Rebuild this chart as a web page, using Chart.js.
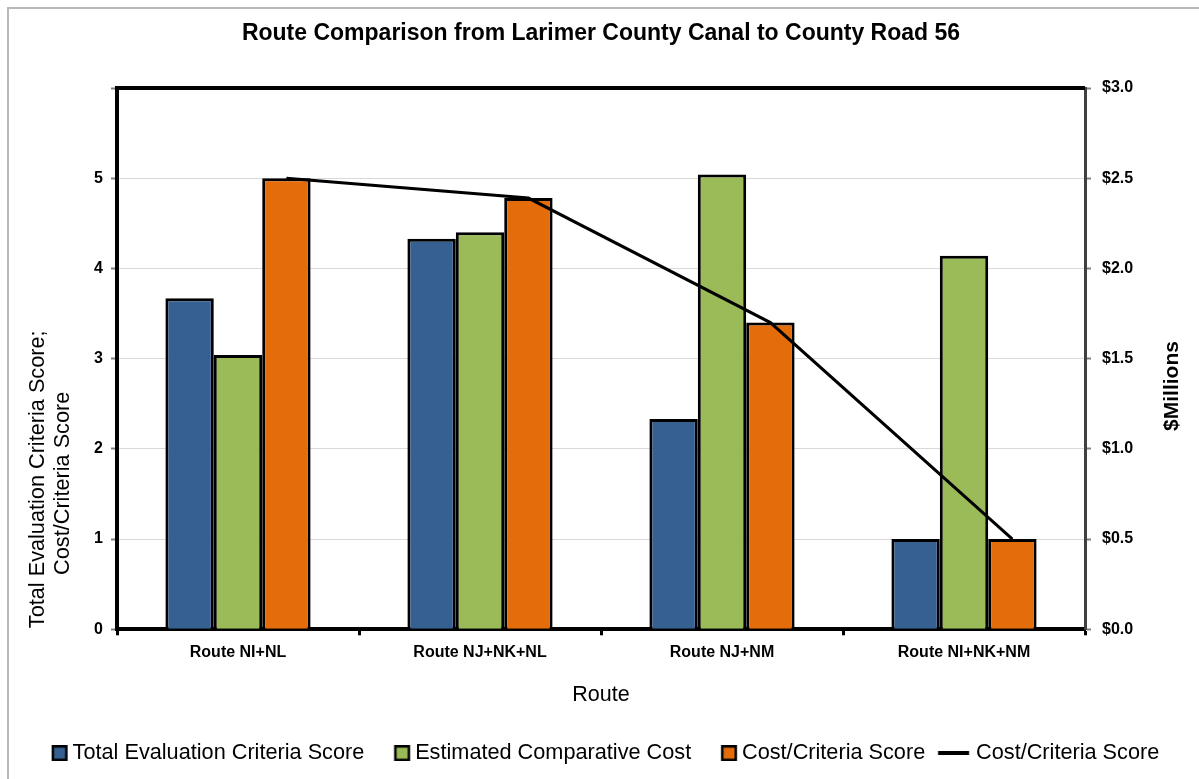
<!DOCTYPE html>
<html>
<head>
<meta charset="utf-8">
<title>Route Comparison</title>
<script src="https://cdn.jsdelivr.net/npm/chart.js@4.4.1/dist/chart.umd.min.js"></script>
<style>
  html, body { margin: 0; padding: 0; background: #fff; overflow: hidden; }
  #wrap { position: relative; width: 1199px; height: 779px; }
  #frame { position: absolute; left: 7px; top: 7px; width: 1300px; height: 900px;
           border-left: 2px solid #b8b8b8; border-top: 2px solid #b8b8b8; }
  #chart { position: absolute; left: 0; top: 0; }
</style>
</head>
<body>
<div id="wrap">
  <div id="frame"></div>
  <canvas id="chart" width="1199" height="779"></canvas>
</div>
<script>
// values
const routes = ['Route NI+NL', 'Route NJ+NK+NL', 'Route NJ+NM', 'Route NI+NK+NM'];
const totalScore = [3.67, 4.33, 2.33, 1.0];
const estCostMillions = [1.52, 2.2, 2.52, 2.07];
const costCriteria = [5.0, 4.78, 3.4, 1.0];
const scoreMax = 6;
const costMax = 3;

const SANS = "'Liberation Sans', Arial, sans-serif";
const BLUE = '#376092';
const GREEN = '#9bbb59';
const ORANGE = '#e46c0a';
const CAT_PCT = 0.6;
const LEGEND_FONT = 21.7;
const LEGEND_BOX = 2;
const PAD_LEFT = 20;

// legend swatch drawn on a small canvas, placed so it ends `gap` px before the text
function makeSwatch(w, h, gap, paint) {
  const right = LEGEND_BOX / 2 + LEGEND_FONT / 2 - gap;
  const left = right - w;
  const half = Math.ceil(Math.max(Math.abs(left), Math.abs(right)));
  const c = document.createElement('canvas');
  c.width = half * 2;
  c.height = h;
  paint(c.getContext('2d'), half + left, w, h);
  return c;
}
const boxSwatch = color => makeSwatch(16, 16, 5, (g, x0, w, h) => {
  g.fillStyle = '#000';
  g.fillRect(x0, 0, w, h);
  g.fillStyle = color;
  g.fillRect(x0 + 2.5, 2.5, w - 5, h - 5);
});
const lineSwatch = makeSwatch(31, 4, 7, (g, x0, w, h) => {
  g.fillStyle = '#000';
  g.fillRect(x0, 0, w, h);
});

const frameTop = {
  id: 'frameTop',
  afterDraw(chart) {
    const { ctx, chartArea: a } = chart;
    ctx.save();
    ctx.strokeStyle = '#000';
    ctx.lineWidth = 4;
    ctx.beginPath();
    ctx.moveTo(a.left - 2, a.top);
    ctx.lineTo(a.right, a.top);
    ctx.stroke();
    ctx.restore();
  }
};

const sideTitles = {
  id: 'sideTitles',
  afterDraw(chart) {
    const { ctx, chartArea: a } = chart;
    const put = (text, x, y, font) => {
      ctx.save();
      ctx.translate(x, y);
      ctx.rotate(-Math.PI / 2);
      ctx.font = font;
      ctx.fillStyle = '#000';
      ctx.textAlign = 'center';
      ctx.textBaseline = 'middle';
      ctx.fillText(text, 0, 0);
      ctx.restore();
    };
    put('Total Evaluation Criteria Score;', a.left - 79, a.bottom - 150, '21.7px ' + SANS);
    put('Cost/Criteria Score', a.left - 54, a.bottom - 146, '21.7px ' + SANS);
    put('$Millions', a.right + 87, a.top + 298, 'bold 21px ' + SANS);
  }
};

const barStyle = {
  borderColor: '#000',
  borderWidth: 3,
  borderSkipped: 'start',
  categoryPercentage: CAT_PCT,
  barPercentage: 1.0,
  order: 1
};

new Chart(document.getElementById('chart'), {
  type: 'bar',
  data: {
    labels: routes,
    datasets: [
      Object.assign({ label: 'Total Evaluation Criteria Score', data: totalScore, backgroundColor: BLUE, yAxisID: 'y' }, barStyle),
      Object.assign({ label: 'Estimated Comparative Cost', data: estCostMillions, backgroundColor: GREEN, yAxisID: 'y2' }, barStyle),
      Object.assign({ label: 'Cost/Criteria Score', data: costCriteria, backgroundColor: ORANGE, yAxisID: 'y' }, barStyle),
      {
        type: 'line',
        label: 'Cost/Criteria Score',
        // unparsed category index, nudged onto the third (orange) bar of each group
        parsing: false,
        data: costCriteria.map((v, i) => ({ x: i + CAT_PCT / 3, y: v })),
        yAxisID: 'y',
        borderColor: '#000',
        borderWidth: 3,
        pointRadius: 0,
        fill: false,
        tension: 0,
        order: 0
      }
    ]
  },
  options: {
    responsive: false,
    animation: false,
    layout: { padding: { left: PAD_LEFT, right: 0, top: 0, bottom: 5 } },
    plugins: {
      title: {
        display: true,
        fullSize: false,
        text: 'Route Comparison from Larimer County Canal to County Road 56',
        color: '#000',
        font: { family: SANS, size: 23, weight: 'bold' },
        padding: { top: 20, bottom: 40.4 }
      },
      legend: {
        position: 'bottom',
        labels: {
          usePointStyle: true,
          boxWidth: LEGEND_BOX,
          boxHeight: LEGEND_BOX,
          padding: 38,
          color: '#000',
          font: { family: SANS, size: LEGEND_FONT },
          generateLabels: chart => chart.data.datasets.map((ds, i) => ({
            text: ds.label,
            pointStyle: i === 3 ? lineSwatch : boxSwatch(ds.backgroundColor),
            datasetIndex: i,
            hidden: false,
            lineWidth: 0,
            fillStyle: 'transparent',
            strokeStyle: 'transparent'
          }))
        }
      },
      tooltip: { enabled: false }
    },
    scales: {
      x: {
        type: 'category',
        offset: true,
        grid: { offset: true, drawOnChartArea: false, tickLength: 6, tickColor: '#000', tickWidth: 3 },
        border: { color: '#000', width: 4 },
        ticks: { color: '#000', font: { family: SANS, size: 16, weight: 'bold' }, padding: 8, maxRotation: 0, autoSkip: false },
        title: { display: true, text: 'Route', color: '#000', font: { family: SANS, size: 21.5 }, padding: { top: 12, bottom: -4 } },
        afterFit: s => { s.height = 75; }
      },
      y: {
        position: 'left',
        min: 0,
        max: scoreMax,
        ticks: {
          stepSize: 1,
          color: '#000',
          padding: 8,
          font: { family: SANS, size: 16, weight: 'bold' },
          callback: v => (v === scoreMax ? '' : v)
        },
        grid: { color: '#d9d9d9', lineWidth: 1, tickColor: '#808080', tickLength: 6, tickWidth: 2 },
        border: { color: '#000', width: 4 },
        afterFit: s => { s.width = 117 - PAD_LEFT; }
      },
      y2: {
        position: 'right',
        min: 0,
        max: costMax,
        ticks: {
          stepSize: 0.5,
          color: '#000',
          padding: 11,
          font: { family: SANS, size: 16, weight: 'bold' },
          callback: v => '$' + v.toFixed(1)
        },
        grid: { drawOnChartArea: false, tickColor: '#808080', tickLength: 6, tickWidth: 2 },
        border: { color: '#404040', width: 3 },
        afterFit: s => { s.width = 114; }
      }
    }
  },
  plugins: [frameTop, sideTitles]
});
</script>
</body>
</html>
